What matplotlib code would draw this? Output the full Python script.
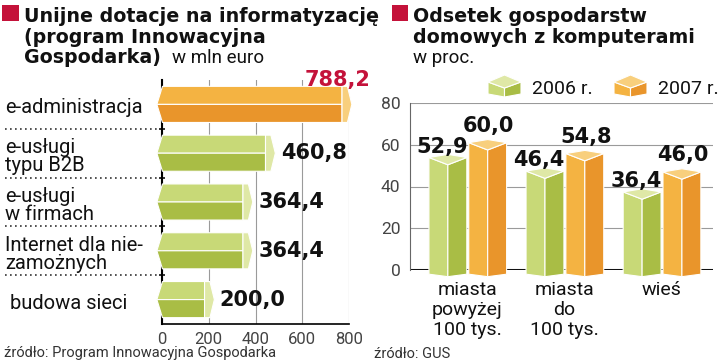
import matplotlib.pyplot as plt
from matplotlib.patches import Polygon, Rectangle

# left chart: EU subsidies (mln euro)
inv_labels = ['e-administracja', 'e-usługi\ntypu B2B', 'e-usługi\nw firmach',
              'Internet dla nie-\nzamożnych', ' budowa sieci']
inv_values = [788.2, 460.8, 364.4, 364.4, 200.0]
inv_ticks = [0, 200, 400, 600, 800]
inv_title = ['Unijne dotacje na informatyzację', '(program Innowacyjna', 'Gospodarka)']

# right chart: households with computers (%)
pc_groups = ['miasta\npowyżej\n100 tys.', 'miasta\ndo\n100 tys.', 'wieś']
pc_2006 = [52.9, 46.4, 36.4]
pc_2007 = [60.0, 54.8, 46.0]
pc_ticks = [0, 20, 40, 60, 80]
pc_years = ['2006 r.', '2007 r.']
pc_title = ['Odsetek gospodarstw', 'domowych z komputerami']

W, H = 720, 364
RED = '#c4123a'
GREEN = ('#c8d977', '#a9bd45', '#dfe8a6')
ORANGE = ('#f4b342', '#e9952b', '#f8cf7d')
BOLD = 'DejaVu Sans'
REG = 'Roboto'


def fmt(v):
    return f'{v:.1f}'.replace('.', ',')


def fr(x, y):
    # pixel position -> figure fraction
    return x / W, 1 - y / H


def hbar(ax, row, value, h, colors):
    top_c, bot_c, cap_c = colors
    yt, yb = row - h / 2, row + h / 2
    x0, nose, front, cap = -22, 24, value - 18, 42
    kw = dict(ec='white', lw=0.8, clip_on=False, zorder=3)
    ax.add_patch(Polygon([(x0, row), (x0 + nose, yt), (front, yt), (front, row)], fc=top_c, **kw))
    ax.add_patch(Polygon([(x0, row), (x0 + nose, yb), (front, yb), (front, row)], fc=bot_c, **kw))
    ax.add_patch(Polygon([(front, yt), (front + 0.55 * cap, yt), (front + cap, row),
                          (front + 0.55 * cap, yb), (front, yb)], fc=cap_c, **kw))


def col(ax, xc, w, top, dm, dp, base, db, colors):
    left_c, right_c, cap_c = colors
    xl, xr = xc - w / 2, xc + w / 2
    mid, peak = top - dm, top + dp
    kw = dict(ec='white', lw=0.8, clip_on=False, zorder=3)
    ax.add_patch(Polygon([(xl, base), (xl, top), (xc, mid), (xc, base - db)], fc=left_c, **kw))
    ax.add_patch(Polygon([(xc, base - db), (xc, mid), (xr, top), (xr, base)], fc=right_c, **kw))
    ax.add_patch(Polygon([(xl, top), (xc, peak), (xr, top), (xc, mid)], fc=cap_c, **kw))


fig = plt.figure(figsize=(7.2, 3.64), dpi=100)
fig.patch.set_facecolor('white')

# ---------------- left chart ----------------
ax1 = fig.add_axes([162 / W, (H - 324) / H, 187 / W, (324 - 80) / H])
n = len(inv_values)
ax1.set_xlim(0, 800)
ax1.set_ylim(n - 0.5, -0.5)
ax1.set_xticks(inv_ticks)
ax1.set_xticklabels([str(t) for t in inv_ticks], fontsize=12, color='#444', family=REG)
ax1.tick_params(axis='x', length=0, pad=6)
ax1.set_yticks([i + 0.5 for i in range(n - 1)])
ax1.set_yticklabels([])
ax1.tick_params(axis='y', direction='inout', length=5, width=1.2, color='#111')
ax1.grid(axis='x', color='#9a9a9a', lw=0.8)
ax1.set_axisbelow(True)
for s in ['top', 'right']:
    ax1.spines[s].set_visible(False)
ax1.spines['left'].set_linewidth(1.5)
ax1.spines['bottom'].set_linewidth(1.2)

ytr = ax1.get_yaxis_transform()
for i, (lab, v) in enumerate(zip(inv_labels, inv_values)):
    colors = ORANGE if i == 0 else GREEN
    hbar(ax1, i, v, 0.74, colors)
    ax1.text(-157 / 187, i + 0.07, lab, transform=ytr, ha='left', va='center',
             fontsize=14.5, family=REG, color='#111', linespacing=0.95)
    if i == 0:
        ax1.annotate(fmt(v), (v, i), xytext=(-42, 24), textcoords='offset pixels',
                     ha='left', va='center', fontsize=15, fontweight='bold',
                     family=BOLD, color=RED, annotation_clip=False, zorder=6)
    else:
        ax1.annotate(fmt(v), (v, i), xytext=(11, 0), textcoords='offset pixels',
                     ha='left', va='center', fontsize=15, fontweight='bold',
                     family=BOLD, color='#111', annotation_clip=False)
    if i < n - 1:
        ax1.plot([-157 / 187, 0], [i + 0.5, i + 0.5], transform=ytr, ls=(0, (1, 2)),
                 color='#333', lw=1.2, clip_on=False)

# ---------------- right chart ----------------
ax2 = fig.add_axes([410 / W, (H - 270) / H, 303 / W, (270 - 103) / H])
ax2.patch.set_alpha(0)
ax2.set_xlim(-0.59, 2.53)
ax2.set_ylim(0, 80)
ax2.set_yticks(pc_ticks)
ax2.set_yticklabels([str(t) for t in pc_ticks], fontsize=12.5, color='#444', family=REG)
ax2.tick_params(axis='y', length=0, pad=7)
ax2.set_xticks(range(len(pc_groups)))
ax2.set_xticklabels(pc_groups, fontsize=14, family=REG, color='#111', va='top')
ax2.tick_params(axis='x', length=0, pad=8)
for lab in ax2.get_xticklabels():
    lab.set_linespacing(1.15)
ax2.grid(axis='y', color='#9a9a9a', lw=0.8)
ax2.set_axisbelow(True)
for s in ['top', 'right', 'bottom']:
    ax2.spines[s].set_visible(False)
ax2.spines['left'].set_color('#666')
ax2.spines['left'].set_linewidth(0.8)
ax2.axhline(0, color='#111', lw=2.2, zorder=2)

bw = 0.39
for i, (a, b) in enumerate(zip(pc_2006, pc_2007)):
    col(ax2, i - 0.2, bw, a + 1, 3.5, 1.5, -2, 1.2, GREEN)
    col(ax2, i + 0.21, bw, b + 1, 3.5, 1.5, -2, 1.2, ORANGE)
    ax2.annotate(fmt(a), (i - 0.2, a), xytext=(-6, 7), textcoords='offset pixels',
                 ha='center', va='baseline', fontsize=15, fontweight='bold',
                 family=BOLD, color='#111', annotation_clip=False, zorder=5)
    ax2.annotate(fmt(b), (i + 0.21, b), xytext=(1, 13), textcoords='offset pixels',
                 ha='center', va='baseline', fontsize=15, fontweight='bold',
                 family=BOLD, color='#111', annotation_clip=False, zorder=5)

# legend cubes
for k, (colors, x0) in enumerate([(GREEN, 488), (ORANGE, 614)]):
    lg = fig.add_axes([x0 / W, (H - 97) / H, 33 / W, 24 / H])
    lg.set_xlim(0, 1)
    lg.set_ylim(0, 24)
    lg.axis('off')
    col(lg, 0.5, 1.0, 15, 6, 7, 3, 3, colors)
    fig.text(*fr(x0 + 44, 94), pc_years[k], fontsize=14, family=REG, color='#111',
             ha='left', va='baseline')

# ---------------- titles / sources ----------------
fig.patches.append(Rectangle(fr(2, 21), 17 / W, 16 / H, transform=fig.transFigure,
                             fc=RED, ec='none'))
fig.patches.append(Rectangle(fr(392, 21), 16 / W, 16 / H, transform=fig.transFigure,
                             fc=RED, ec='none'))
for line, y in zip(inv_title, [22, 43, 63]):
    fig.text(*fr(24, y), line, fontsize=13.7, fontweight='bold', family=BOLD,
             color='#111', ha='left', va='baseline')
fig.text(*fr(172, 63), 'w mln euro', fontsize=13.5, family=REG, color='#111',
         ha='left', va='baseline')
for line, y in zip(pc_title, [22, 43]):
    fig.text(*fr(413, y), line, fontsize=13.7, fontweight='bold', family=BOLD,
             color='#111', ha='left', va='baseline')
fig.text(*fr(413, 63), 'w proc.', fontsize=13.5, family=REG, color='#111',
         ha='left', va='baseline')
fig.text(*fr(4, 353), 'źródło: Program Innowacyjna Gospodarka', fontsize=10.5,
         family=REG, color='#333', ha='left', va='center')
fig.text(*fr(374, 354), 'źródło: GUS', fontsize=10.5, family=REG, color='#333',
         ha='left', va='center')

fig.savefig('out.png', dpi=100)
